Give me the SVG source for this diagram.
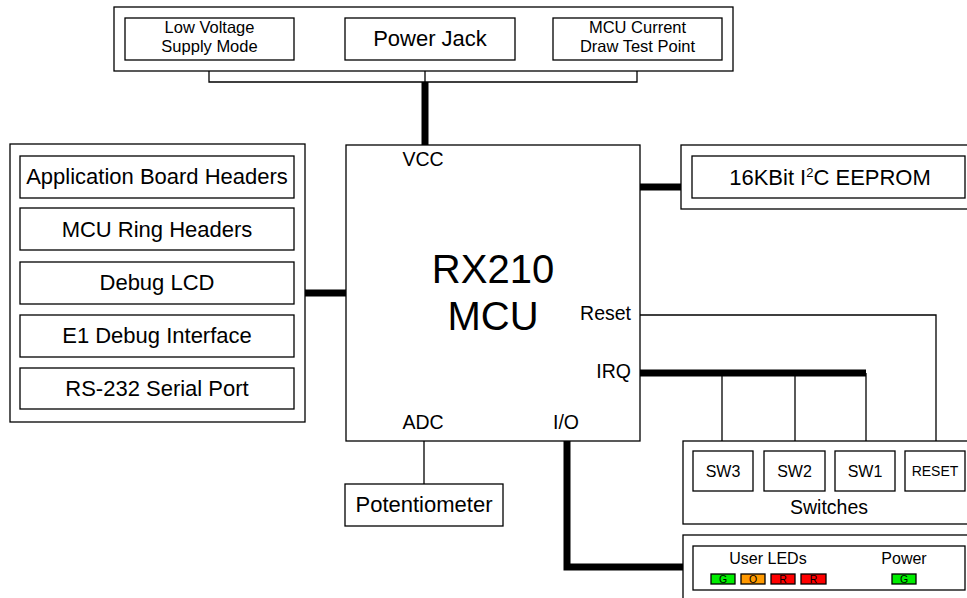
<svg xmlns="http://www.w3.org/2000/svg" width="967" height="598" viewBox="0 0 967 598">
<style>
  .box { fill: #ffffff; stroke: #000000; stroke-width: 1.3; }
  .t { font-family: "Liberation Sans", Arial, sans-serif; fill: #000000; text-anchor: middle; }
  .thin { fill: none; stroke: #000000; stroke-width: 1.3; }
  .thick { fill: none; stroke: #000000; stroke-width: 7; }
  .led { stroke: #000000; stroke-width: 1.3; }
  .lt { font-family: "Liberation Sans", Arial, sans-serif; font-size: 10.5px; fill: #000000; text-anchor: middle; }
</style>
<rect width="967" height="598" fill="#ffffff"/>

<g id="connectors">
  <polyline class="thin" points="209,60 209,82 637,82 637,60"/>
  <line class="thin" x1="425" y1="60" x2="425" y2="82"/>
  <line class="thick" x1="425" y1="82" x2="425" y2="145"/>
  <line class="thick" x1="305" y1="293" x2="346" y2="293"/>
  <line class="thick" x1="640" y1="187" x2="681" y2="187"/>
  <polyline class="thin" points="640,315 936,315 936,451"/>
  <line class="thick" x1="640" y1="373" x2="866" y2="373"/>
  <line class="thin" x1="722" y1="373" x2="722" y2="451"/>
  <line class="thin" x1="795" y1="373" x2="795" y2="451"/>
  <line class="thin" x1="866" y1="373" x2="866" y2="451"/>
  <line class="thin" x1="424" y1="441" x2="424" y2="484"/>
  <polyline class="thick" points="567,441 567,567 683,567"/>
</g>

<g id="power-group">
  <rect class="box" x="114" y="7" width="619" height="64"/>
  <g id="low-voltage">
    <rect class="box" x="125" y="18" width="169" height="42"/>
    <text class="t" x="209.5" y="33" font-size="16.5">Low Voltage</text>
    <text class="t" x="209.5" y="52" font-size="16.5">Supply Mode</text>
  </g>
  <g id="power-jack">
    <rect class="box" x="345" y="18" width="170" height="42"/>
    <text class="t" x="430" y="46" font-size="22">Power Jack</text>
  </g>
  <g id="mcu-current">
    <rect class="box" x="553" y="18" width="169" height="42"/>
    <text class="t" x="637.5" y="33" font-size="16.5">MCU Current</text>
    <text class="t" x="637.5" y="52" font-size="16.5">Draw Test Point</text>
  </g>
</g>

<g id="mcu">
  <rect class="box" x="346" y="145" width="294" height="296"/>
  <text class="t" x="423" y="166" font-size="19.5">VCC</text>
  <text class="t" x="493" y="283" font-size="40">RX210</text>
  <text class="t" x="493" y="330" font-size="40">MCU</text>
  <text class="t" x="631" y="320" font-size="19.5" style="text-anchor:end">Reset</text>
  <text class="t" x="631" y="378" font-size="19.5" style="text-anchor:end">IRQ</text>
  <text class="t" x="423" y="429" font-size="19.5">ADC</text>
  <text class="t" x="566" y="429" font-size="19.5">I/O</text>
</g>

<g id="headers-group">
  <rect class="box" x="10" y="144" width="295" height="278"/>
  <g id="app-board-headers">
    <rect class="box" x="20" y="156" width="274" height="42"/>
    <text class="t" x="157" y="184" font-size="22">Application Board Headers</text>
  </g>
  <g id="mcu-ring-headers">
    <rect class="box" x="20" y="208" width="274" height="42"/>
    <text class="t" x="157" y="237" font-size="22">MCU Ring Headers</text>
  </g>
  <g id="debug-lcd">
    <rect class="box" x="20" y="262" width="274" height="42"/>
    <text class="t" x="157" y="290" font-size="22">Debug LCD</text>
  </g>
  <g id="e1-debug">
    <rect class="box" x="20" y="315" width="274" height="42"/>
    <text class="t" x="157" y="343" font-size="22">E1 Debug Interface</text>
  </g>
  <g id="rs232">
    <rect class="box" x="20" y="368" width="274" height="41"/>
    <text class="t" x="157" y="396" font-size="22">RS-232 Serial Port</text>
  </g>
</g>

<g id="eeprom-group">
  <rect class="box" x="681" y="145" width="290" height="64"/>
  <g id="eeprom">
    <rect class="box" x="692" y="156" width="273" height="42"/>
    <text class="t" x="830" y="185" font-size="22">16KBit I<tspan font-size="13" dy="-8">2</tspan><tspan dy="8">C EEPROM</tspan></text>
  </g>
</g>

<g id="switches-group">
  <rect class="box" x="683" y="441" width="290" height="83"/>
  <g id="sw3">
    <rect class="box" x="693" y="451" width="60" height="40"/>
    <text class="t" x="723" y="477" font-size="16">SW3</text>
  </g>
  <g id="sw2">
    <rect class="box" x="764" y="451" width="61" height="40"/>
    <text class="t" x="794.5" y="477" font-size="16">SW2</text>
  </g>
  <g id="sw1">
    <rect class="box" x="835" y="451" width="60" height="40"/>
    <text class="t" x="865" y="477" font-size="16">SW1</text>
  </g>
  <g id="reset">
    <rect class="box" x="905" y="451" width="60" height="40"/>
    <text class="t" x="935" y="476" font-size="14">RESET</text>
  </g>
  <text class="t" x="829" y="514" font-size="19.5">Switches</text>
</g>

<g id="leds-group">
  <rect class="box" x="683" y="535" width="290" height="70"/>
  <g id="leds">
    <rect class="box" x="693" y="546" width="272" height="44"/>
    <text class="t" x="768" y="564" font-size="16">User LEDs</text>
    <text class="t" x="904" y="564" font-size="16">Power</text>
    <rect class="led" x="711" y="574" width="24" height="10" fill="#00ee00"/>
    <text class="lt" x="723" y="582.5">G</text>
    <rect class="led" x="741" y="574" width="24" height="10" fill="#ff9900"/>
    <text class="lt" x="753" y="582.5">O</text>
    <rect class="led" x="771" y="574" width="24" height="10" fill="#ff0000"/>
    <text class="lt" x="783" y="582.5">R</text>
    <rect class="led" x="801" y="574" width="25" height="10" fill="#ff0000"/>
    <text class="lt" x="813.5" y="582.5">R</text>
    <rect class="led" x="892" y="574" width="24" height="10" fill="#00ee00"/>
    <text class="lt" x="904" y="582.5">G</text>
  </g>
</g>

<g id="potentiometer">
  <rect class="box" x="345" y="484" width="158" height="42"/>
  <text class="t" x="424" y="512" font-size="22">Potentiometer</text>
</g>
</svg>
